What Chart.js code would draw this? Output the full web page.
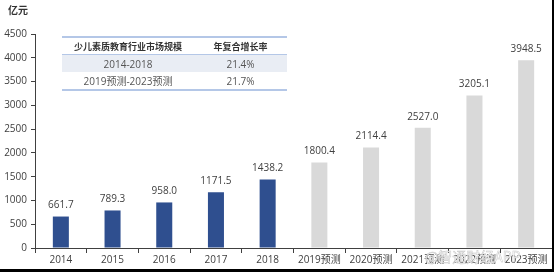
<!DOCTYPE html>
<html>
<head>
<meta charset="utf-8">
<script src="https://cdn.jsdelivr.net/npm/chart.js@4/dist/chart.umd.min.js"></script>
<style>
    html, body { margin: 0; padding: 0; background: #fff; }
    #wrap { position: relative; width: 554px; height: 272px; overflow: hidden; }
    #frame { position: absolute; left: 0; top: 0; width: 552px; height: 269px;
             border-right: 2px solid #000; border-bottom: 3px solid #000; pointer-events: none; }
    #unit { position: absolute; left: 8px; top: 2px; font: bold 10px "Noto Sans CJK SC", sans-serif; color: #333; }
    #cagr { position: absolute; left: 62px; top: 36px; width: 225px; border-collapse: collapse;
            font: 10px "Open Sans", "Noto Sans CJK SC", sans-serif; color: #555; table-layout: fixed; }
    #cagr th { font: bold 9px "Noto Sans CJK SC", sans-serif; color: #333; height: 16px; padding: 0;
               border-top: 2px solid #b4c7e7; border-bottom: 1px solid #b4c7e7; }
    #cagr td { text-align: center; height: 17px; padding: 0; }
    #cagr tr.shade td { background: #e9edf4; }
    #cagr tr.last td { border-bottom: 2px solid #b4c7e7; }
    #wm { position: absolute; left: 425px; top: 246px; font: 14px "Noto Sans CJK SC", sans-serif;
          color: rgba(255,255,255,0.9); -webkit-text-stroke: 0.5px #c8c8c8; }
</style>
</head>
<body>
<div id="wrap">
    <canvas id="chart" width="554" height="272"></canvas>
    <div id="unit">亿元</div>
    <table id="cagr">
        <colgroup><col style="width:132px"><col style="width:93px"></colgroup>
        <tr><th>少儿素质教育行业市场规模</th><th>年复合增长率</th></tr>
        <tr class="shade"><td>2014-2018</td><td>21.4%</td></tr>
        <tr class="last"><td>2019预测-2023预测</td><td>21.7%</td></tr>
    </table>
    <div id="wm">@智通财经APP</div>
    <div id="frame"></div>
</div>
<script>
// market size, 亿元
const years = ['2014', '2015', '2016', '2017', '2018',
    '2019预测', '2020预测', '2021预测', '2022预测', '2023预测'];
const marketSize = [661.7, 789.3, 958.0, 1171.5, 1438.2, 1800.4, 2114.4, 2527.0, 3205.1, 3948.5];
const isForecast = [false, false, false, false, false, true, true, true, true, true];
const yTicks = [0, 500, 1000, 1500, 2000, 2500, 3000, 3500, 4000, 4500];

const barColors = isForecast.map(function (f) { return f ? '#d9d9d9' : '#2f4f8f'; });

// value labels above each bar
const valueLabels = {
    id: 'valueLabels',
    afterDatasetsDraw: function (chart) {
        const ctx = chart.ctx;
        const meta = chart.getDatasetMeta(0);
        ctx.save();
        ctx.font = '10px "Open Sans", "Noto Sans", sans-serif';
        ctx.fillStyle = '#404040';
        ctx.textAlign = 'center';
        ctx.textBaseline = 'bottom';
        meta.data.forEach(function (bar, i) {
            ctx.fillText(marketSize[i].toFixed(1), bar.x, bar.y - 6);
        });
        ctx.restore();
    }
};

new Chart(document.getElementById('chart'), {
    type: 'bar',
    data: {
        labels: years,
        datasets: [{
            data: marketSize,
            backgroundColor: barColors,
            borderWidth: 0,
            barPercentage: 0.62,
            categoryPercentage: 0.5
        }]
    },
    options: {
        responsive: false,
        animation: false,
        layout: { padding: { top: 34, right: 2, bottom: 5, left: 0 } },
        plugins: { legend: { display: false }, tooltip: { enabled: false } },
        scales: {
            x: {
                grid: { display: true, drawOnChartArea: false, tickLength: 5, color: '#404040' },
                border: { display: true, color: '#404040' },
                ticks: { color: '#404040', padding: 1, maxRotation: 0, autoSkip: false,
                         font: { size: 10, family: '"Open Sans", "Noto Sans CJK SC", sans-serif' } }
            },
            y: {
                min: 0, max: 4500,
                afterBuildTicks: function (scale) {
                    scale.ticks = yTicks.map(function (v) { return { value: v }; });
                },
                afterFit: function (scale) { scale.width = 35; },
                grid: { display: true, drawOnChartArea: false, tickLength: 4, color: '#404040' },
                border: { display: true, color: '#404040' },
                ticks: { color: '#404040', padding: 4,
                         callback: function (v) { return String(v); },
                         font: { size: 10, family: '"Open Sans", "Noto Sans", sans-serif' } }
            }
        }
    },
    plugins: [valueLabels]
});
</script>
</body>
</html>
